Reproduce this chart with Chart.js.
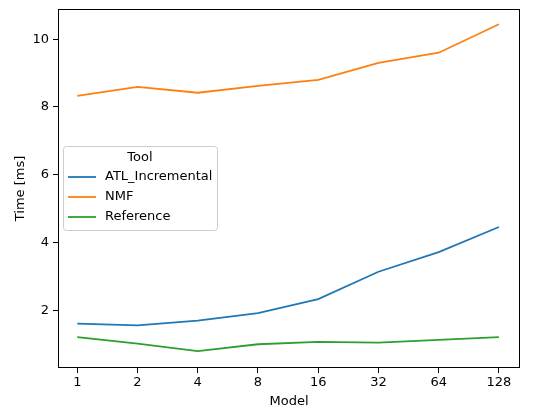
<!DOCTYPE html>
<html>
<head>
<meta charset="utf-8">
<script src="https://cdn.jsdelivr.net/npm/chart.js@4/dist/chart.umd.min.js"></script>
<style>
  html, body { margin: 0; padding: 0; background: #fff; }
  #wrap { width: 544px; height: 413px; }
</style>
</head>
<body>
<div id="wrap"><canvas id="canvas"></canvas></div>
<script>
// data
var models = ['1', '2', '4', '8', '16', '32', '64', '128'];
var atlIncremental = [1.61, 1.56, 1.70, 1.92, 2.33, 3.14, 3.72, 4.46];
var nmf = [8.33, 8.59, 8.42, 8.62, 8.80, 9.30, 9.60, 10.44];
var reference = [1.21, 1.02, 0.80, 1.00, 1.07, 1.05, 1.13, 1.21];
var yTicks = [2, 4, 6, 8, 10];
var legendTitle = 'Tool';

function pts(arr) {
  return arr.map(function(v, i) { return { x: i, y: v }; });
}

var FONT = 'DejaVu Sans';

// frame around the plot area + legend box like matplotlib
var framePlugin = {
  id: 'frame',
  afterDatasetsDraw: function(chart) {
    var ctx = chart.ctx, a = chart.chartArea;
    ctx.save();
    ctx.strokeStyle = '#000';
    ctx.lineWidth = 1;
    ctx.strokeRect(a.left + 0.5, a.top + 0.5, a.right - a.left - 1, a.bottom - a.top - 1);

    // legend
    var x = 63, y = 146, w = 154, h = 84;
    ctx.fillStyle = 'rgba(255,255,255,0.8)';
    ctx.strokeStyle = '#cccccc';
    ctx.beginPath();
    ctx.roundRect(x + 0.5, y + 0.5, w, h, 3);
    ctx.fill();
    ctx.stroke();
    ctx.font = '13px "' + FONT + '"';
    ctx.fillStyle = '#000';
    ctx.textBaseline = 'middle';
    ctx.textAlign = 'center';
    ctx.fillText(legendTitle, x + w / 2, y + 12);
    ctx.textAlign = 'left';
    chart.data.datasets.forEach(function(ds, i) {
      var ly = y + 31 + i * 20;
      ctx.strokeStyle = ds.borderColor;
      ctx.lineWidth = ds.borderWidth;
      ctx.beginPath();
      ctx.moveTo(x + 5, ly);
      ctx.lineTo(x + 33, ly);
      ctx.stroke();
      ctx.fillText(ds.label, x + 42, ly);
    });
    ctx.restore();
  }
};

var ctx = document.getElementById('canvas').getContext('2d');
var chart = new Chart(ctx, {
  type: 'line',
  data: {
    datasets: [
      { label: 'ATL_Incremental', data: pts(atlIncremental), borderColor: '#1f77b4' },
      { label: 'NMF', data: pts(nmf), borderColor: '#ff7f0e' },
      { label: 'Reference', data: pts(reference), borderColor: '#2ca02c' }
    ].map(function(d) {
      d.borderWidth = 1.8;
      d.pointRadius = 0;
      d.fill = false;
      d.tension = 0;
      return d;
    })
  },
  options: {
    responsive: true,
    maintainAspectRatio: false,
    animation: false,
    layout: { padding: { top: 9, right: 24, left: 0, bottom: 0 } },
    plugins: {
      legend: { display: false },
      tooltip: { enabled: false }
    },
    scales: {
      x: {
        type: 'linear',
        min: -0.32,
        max: 7.35,
        afterBuildTicks: function(scale) {
          scale.ticks = models.map(function(m, i) { return { value: i }; });
        },
        afterFit: function(scale) {
          scale.height = 45;
          scale.paddingLeft = 0;
          scale.paddingRight = 0;
        },
        ticks: {
          color: '#000',
          font: { family: FONT, size: 13 },
          padding: 2,
          maxRotation: 0,
          autoSkip: false,
          callback: function(v) { return models[v]; }
        },
        grid: { drawOnChartArea: false, drawTicks: true, tickLength: 5, color: '#000', lineWidth: 1 },
        border: { display: false },
        title: {
          display: true,
          text: 'Model',
          color: '#000',
          font: { family: FONT, size: 13 },
          padding: { top: 0, bottom: 4 }
        }
      },
      y: {
        min: 0.30,
        max: 10.89,
        afterBuildTicks: function(scale) {
          scale.ticks = yTicks.map(function(v) { return { value: v }; });
        },
        afterFit: function(scale) {
          scale.width = 58;
          scale.paddingTop = 0;
          scale.paddingBottom = 0;
        },
        ticks: {
          color: '#000',
          font: { family: FONT, size: 13 },
          padding: 4
        },
        grid: { drawOnChartArea: false, drawTicks: true, tickLength: 5, color: '#000', lineWidth: 1 },
        border: { display: false },
        title: {
          display: true,
          text: 'Time [ms]',
          color: '#000',
          font: { family: FONT, size: 13 },
          padding: { top: 13, bottom: 0 }
        }
      }
    }
  },
  plugins: [framePlugin]
});
</script>
</body>
</html>
